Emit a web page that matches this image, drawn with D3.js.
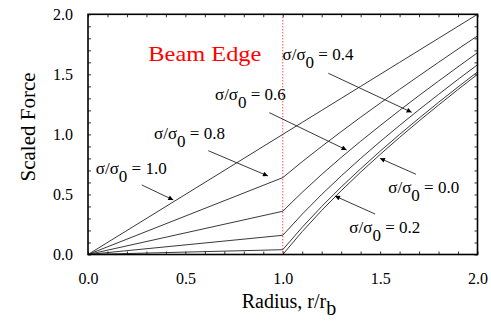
<!DOCTYPE html>
<html><head><meta charset="utf-8">
<script src="https://cdn.jsdelivr.net/npm/d3@7"></script>
<style>body{margin:0;background:#fff}svg{display:block}text{font-family:"Liberation Serif","Times New Roman",serif;fill:#000}</style>
</head><body><svg id="c" width="491" height="325"></svg>
<script>
// Data
const radius = [0, 1.0, 1.1, 1.2, 1.3, 1.4, 1.5, 1.6, 1.7, 1.8, 1.9, 2.0];
const ratios = ["1.0", "0.8", "0.6", "0.4", "0.2", "0.0"];
const force10 = [0, 1.0, 1.1, 1.2, 1.3, 1.4, 1.5, 1.6, 1.7, 1.8, 1.9, 2.0];
const force08 = [0, 0.64, 0.773, 0.90, 1.023, 1.143, 1.26, 1.375, 1.488, 1.60, 1.711, 1.82];
const force06 = [0, 0.36, 0.518, 0.667, 0.808, 0.943, 1.073, 1.20, 1.324, 1.444, 1.563, 1.68];
const force04 = [0, 0.16, 0.336, 0.50, 0.654, 0.80, 0.94, 1.075, 1.206, 1.333, 1.458, 1.58];
const force02 = [0, 0.04, 0.227, 0.40, 0.562, 0.714, 0.86, 1.00, 1.135, 1.267, 1.395, 1.52];
const force00 = [0, 0.0, 0.191, 0.367, 0.531, 0.686, 0.833, 0.975, 1.112, 1.244, 1.374, 1.50];
const xTicks = [0, 0.5, 1.0, 1.5, 2.0];
const yTicks = [0, 0.5, 1.0, 1.5, 2.0];
const beamEdge = 1.0;
// annotation label anchors and arrows (data units)
const labelRatio = ["0.4", "0.6", "0.8", "1.0", "0.0", "0.2"];
const labelX = [0.999, 0.652, 0.339, 0.040, 1.542, 1.342];
const labelY = [1.619, 1.286, 0.959, 0.668, 0.510, 0.177];
const arrowX0 = [1.234, 0.931, 0.618, 0.276, 1.684, 1.474];
const arrowY0 = [1.509, 1.181, 0.864, 0.579, 0.668, 0.337];
const arrowX1 = [1.662, 1.328, 0.924, 0.438, 1.499, 1.268];
const arrowY1 = [1.184, 0.870, 0.654, 0.454, 0.801, 0.487];

const series = [force10, force08, force06, force04, force02, force00];

const svg = d3.select("#c");
const L = 88, R = 477.5, T = 14.3, B = 254.5;
const x = d3.scaleLinear().domain([0, 2]).range([L, R]);
const y = d3.scaleLinear().domain([0, 2]).range([B, T]);
const FONT = "Liberation Serif, Times New Roman, serif";

const minor = d3.range(0, 2.0001, 0.1);
// axes with inward ticks
svg.append("g").attr("transform", `translate(0,${B})`)
  .call(d3.axisBottom(x).tickValues(minor).tickSize(-3).tickFormat(""))
  .call(g => g.select(".domain").remove());
svg.append("g").attr("transform", `translate(0,${T})`)
  .call(d3.axisTop(x).tickValues(minor).tickSize(-3).tickFormat(""))
  .call(g => g.select(".domain").remove());
svg.append("g").attr("transform", `translate(${L},0)`)
  .call(d3.axisLeft(y).tickValues(minor).tickSize(-3).tickFormat(""))
  .call(g => g.select(".domain").remove());
svg.append("g").attr("transform", `translate(${R},0)`)
  .call(d3.axisRight(y).tickValues(minor).tickSize(-3).tickFormat(""))
  .call(g => g.select(".domain").remove());
svg.selectAll(".tick line").attr("stroke", "#333").attr("stroke-width", 1);

// tick labels
svg.append("g").attr("transform", `translate(0,${B})`)
  .call(d3.axisBottom(x).tickValues(xTicks).tickSize(0).tickPadding(18).tickFormat(d3.format(".1f")))
  .call(g => g.select(".domain").remove())
  .attr("font-family", FONT)
  .selectAll("text").style("font-size", "16px").style("font-family", FONT);
svg.append("g").attr("transform", `translate(${L},0)`)
  .call(d3.axisLeft(y).tickValues(yTicks).tickSize(0).tickPadding(15).tickFormat(d3.format(".1f")))
  .call(g => g.select(".domain").remove())
  .attr("font-family", FONT)
  .selectAll("text").style("font-size", "16px").style("font-family", FONT);

// beam edge line
svg.append("line").attr("x1", x(beamEdge)).attr("x2", x(beamEdge)).attr("y1", T).attr("y2", B)
  .attr("stroke", "#f00").attr("stroke-width", 1).attr("stroke-dasharray", "1,2");

// curves
const line = d3.line().x((d, i) => x(radius[i])).y(d => y(d));
svg.selectAll("path.curve").data(series).join("path").attr("class", "curve")
  .attr("d", d => line(d)).attr("fill", "none").attr("stroke", "#222").attr("stroke-width", 0.9);

// frame
svg.append("rect").attr("x", L).attr("y", T).attr("width", R - L).attr("height", B - T)
  .attr("fill", "none").attr("stroke", "#000").attr("stroke-width", 1.6);

// arrows
svg.append("defs").append("marker").attr("id", "ah").attr("viewBox", "0 0 10 10")
  .attr("refX", 10).attr("refY", 5).attr("markerWidth", 7).attr("markerHeight", 5)
  .attr("markerUnits", "userSpaceOnUse").attr("orient", "auto")
  .append("path").attr("d", "M0,0L10,5L0,10z").attr("fill", "#000");
labelRatio.forEach((r, i) => {
  svg.append("line").attr("x1", x(arrowX0[i])).attr("y1", y(arrowY0[i]))
    .attr("x2", x(arrowX1[i])).attr("y2", y(arrowY1[i]))
    .attr("stroke", "#222").attr("stroke-width", 0.9).attr("marker-end", "url(#ah)");
  const t = svg.append("text").attr("x", x(labelX[i])).attr("y", y(labelY[i]))
    .style("font-size", "17px").style("font-family", FONT);
  t.append("tspan").text("σ/σ");
  t.append("tspan").attr("dy", 8).text("0");
  t.append("tspan").attr("dy", -8).text(" = " + r);
});

// Beam edge label
svg.append("text").attr("x", x(0.310)).attr("y", y(1.614)).style("font-size", "22px")
  .style("font-family", FONT).attr("textLength", 113).attr("lengthAdjust", "spacingAndGlyphs")
  .style("fill", "#f00").text("Beam Edge");

// axis titles
svg.append("text").attr("x", 289).attr("y", 308).attr("text-anchor", "middle")
  .style("font-size", "20px").style("font-family", FONT).call(t => {
    t.append("tspan").text("Radius, r/r");
    t.append("tspan").attr("dy", 7).text("b");
  });
svg.append("text").attr("transform", `translate(35,127) rotate(-90)`).attr("text-anchor", "middle")
  .style("font-size", "21px").style("font-family", FONT).text("Scaled Force");
</script></body></html>
